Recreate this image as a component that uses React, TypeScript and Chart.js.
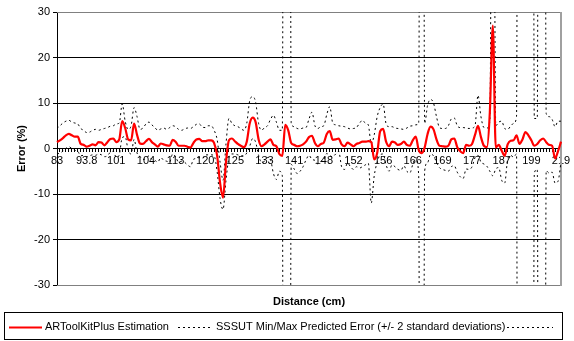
import React, { useEffect, useRef } from 'react';
import { Chart, registerables } from 'chart.js';

Chart.register(...registerables);

// ---- data ----
const tickLabels = ['83', '93.8', '101', '104', '113', '120', '125', '133', '141', '148', '152', '156', '166', '169', '177', '187', '199', '219'];
const labelStep = 10;
const pointCount = 171;

const estimation = [
  1.4, 1.8, 2.3, 2.9, 3.2, 2.9, 2.6, 2.6, 1.0, 0.8,
  0.4, 0.6, 0.9, 0.7, 1.4, 1.3, 0.7, 1.4, 2.1, 2.2,
  1.4, 2.0, 6.0, 4.5, 2.0, 1.8, 5.5, 3.0, 1.1, 1.0,
  1.6, 2.1, 1.4, 0.9, 0.4, 1.1, 0.9, 0.7, 0.6, 1.9,
  1.5, 0.6, 0.6, 0.6, 0.4, 0.2, 1.2, 2.0, 2.1, 1.6,
  1.6, 1.8, 1.8, 1.2, -1.5, -7.5, -10.8, -3.0, 1.8, 2.2,
  1.6, 1.0, 0.6, 0.3, 1.5, 5.5, 6.8, 5.8, 2.0, 0.5,
  0.9, 1.5, 2.0, 0.8, 0.5, -1.2, -1.6, 5.2, 4.0, 1.2,
  0.8, 0.5, 0.6, 0.9, 1.5, 2.5, 2.8, 1.2, 0.5, 1.0,
  1.3, 3.2, 3.8, 1.9, 2.0, 2.2, 0.9, 0.5, 1.3, 0.9,
  0.5, 1.0, 1.2, 1.5, 1.5, 1.6, 1.4, -2.4, -1.0, 3.8,
  4.3, 1.5, 0.5, 1.5, 1.3, 0.8, 1.0, 1.5, 0.8, 0.6,
  1.8, 2.6, -0.3, -1.0, 0.2, 3.2, 4.8, 4.2, 2.0, 0.6,
  0.5, 0.4, 0.6, 2.0, 2.2, 0.3, -0.6, -1.0, 0.8, 0.6,
  1.0, 3.0, 5.0, 2.5, 0.6, 0.3, 8.0, 27.0, 0.2, 0.8,
  -0.5, -1.6, 0.9, 1.7, 1.8, 2.9, 1.0, 2.0, 3.6, 2.9,
  1.8, 0.6, 1.0, 1.8, 2.2, 1.4, 0.8, 0.6, -2.2, -0.6,
  1.5,
];

const predictedMax = [
  4.4, 5.0, 5.6, 6.0, 6.2, 5.8, 5.6, 5.4, 4.4, 4.0,
  3.5, 3.6, 4.0, 4.2, 4.0, 4.2, 4.4, 4.6, 4.9, 5.0,
  5.4, 5.6, 9.8, 6.0, 4.2, 5.0, 9.0, 7.0, 4.2, 4.5,
  5.4, 5.8, 5.2, 4.6, 4.0, 4.3, 4.5, 4.2, 4.6, 5.0,
  4.8, 4.2, 4.0, 4.3, 4.5, 4.4, 4.8, 5.3, 5.4, 4.7,
  4.6, 5.0, 5.0, 4.0, 2.0, -3.0, -7.0, 1.0, 6.6, 5.5,
  5.0, 4.8, 4.4, 4.0, 5.5, 10.5, 11.4, 10.2, 5.5, 4.0,
  4.6, 5.0, 6.4, 7.3, 5.8, 4.0, 4.0, 400, 400, 5.5,
  4.8, 4.4, 4.3, 4.5, 4.6, 6.5, 8.0, 5.0, 4.4, 4.8,
  5.0, 7.5, 9.2, 5.6, 5.2, 5.0, 4.9, 4.8, 4.5, 4.3,
  4.4, 4.6, 5.5, 6.2, 5.6, 5.2, 1.0, 3.0, 7.0, 9.0,
  9.8, 5.4, 4.8, 4.8, 4.5, 4.4, 4.3, 4.2, 4.5, 4.9,
  5.0, 5.2, 5.5, 400, 5.5, 9.5, 10.8, 10.0, 7.0, 4.6,
  4.4, 4.4, 5.0, 6.5, 6.7, 5.0, 4.6, 4.6, 4.5, 4.4,
  4.5, 5.0, 11.7, 7.0, 4.6, 4.5, 6.0, 120, 5.0, 5.8,
  6.0, 4.4, 4.2, 4.9, 5.5, 7.0, 400, 400, 400, 400,
  400, 6.6, 6.6, 400, 400, 7.7, 7.0, 6.4, 4.8, 6.0,
  6.0,
];

const predictedMin = [
  -1.2, -1.0, -0.6, 0.0, 0.4, 0.0, -0.4, -0.6, -1.6, -1.5,
  -1.8, -1.6, -1.4, -1.5, -1.2, -1.4, -1.8, -1.6, -0.8, -0.6,
  -2.0, -1.4, 2.4, 2.6, -0.4, -1.2, 2.0, -1.0, -1.8, -2.4,
  -2.2, -1.6, -2.4, -2.6, -3.0, -2.0, -2.6, -2.8, -3.0, -1.2,
  -1.8, -3.0, -2.8, -3.0, -3.6, -4.0, -2.4, -2.2, -2.0, -2.2,
  -1.4, -1.4, -1.4, -1.6, -5.0, -11.0, -13.4, -7.0, -2.0, -1.2,
  -1.2, -1.4, -1.6, -1.6, -1.0, 0.5, 2.2, 1.4, -1.5, -3.0,
  -2.8, -2.0, -2.4, -5.5, -6.8, -5.0, -6.0, -400, -400, -3.5,
  -4.5, -5.5, -5.0, -4.0, -2.5, -1.5, -2.4, -2.6, -3.4, -2.8,
  -2.4, -1.1, -1.6, -1.8, -1.2, -0.6, -4.0, -4.6, -3.2, -4.0,
  -4.6, -4.0, -4.3, -4.0, -3.6, -3.2, -12.0, -6.0, -3.0, -1.4,
  -1.2, -3.6, -5.0, -3.6, -4.0, -4.6, -4.8, -3.8, -5.0, -5.4,
  -3.5, -2.0, -6.0, -400, -5.0, -3.1, -1.2, -1.6, -3.0, -4.2,
  -4.6, -4.8, -5.0, -4.0, -3.8, -5.2, -6.2, -6.6, -4.5, -4.6,
  -4.0, -2.0, -1.5, -3.0, -3.4, -3.9, -5.0, -6.0, -4.5, -4.2,
  -7.0, -7.6, -2.4, -1.5, -1.9, -1.2, -400, -400, -400, -400,
  -400, -5.4, -4.6, -400, -400, -4.9, -5.4, -5.2, -7.6, -7.2,
  -3.0,
];

const seriesNames = ['ARToolKitPlus Estimation', 'SSSUT Min/Max Predicted Error (+/- 2 standard deviations)', ''];
const xTitle = 'Distance (cm)';
const yTitle = 'Error (%)';
const yMin = -30;
const yMax = 30;
const yStep = 10;

const FONT = '"Liberation Sans", Arial, sans-serif';

const categories = Array.from({ length: pointCount }, (_, i) =>
  i % labelStep === 0 ? tickLabels[i / labelStep] : ''
);

const decorPlugin = {
  id: 'decor',
  beforeDatasetsDraw(chart: any) {
    const { ctx, chartArea: a } = chart;
    ctx.save();
    ctx.strokeStyle = '#808080';
    ctx.lineWidth = 1;
    ctx.beginPath();
    ctx.moveTo(a.left, Math.round(a.top) + 0.5);
    ctx.lineTo(a.right, Math.round(a.top) + 0.5);
    ctx.moveTo(a.left, Math.round(a.bottom) + 0.5);
    ctx.lineTo(a.right, Math.round(a.bottom) + 0.5);
    ctx.stroke();
    ctx.strokeStyle = '#a0a0a0';
    ctx.lineWidth = 2;
    ctx.beginPath();
    ctx.moveTo(a.right, a.top);
    ctx.lineTo(a.right, a.bottom + 1);
    ctx.stroke();
    ctx.restore();
  },
  afterDraw(chart: any) {
    const { ctx, chartArea: a } = chart;
    ctx.save();
    ctx.fillStyle = '#000';
    // axis titles
    ctx.font = 'bold 11px ' + FONT;
    ctx.textAlign = 'center';
    ctx.textBaseline = 'middle';
    ctx.fillText(xTitle, (a.left + a.right) / 2, 302);
    ctx.save();
    ctx.translate(22, (a.top + a.bottom) / 2);
    ctx.rotate(-Math.PI / 2);
    ctx.fillText(yTitle, 0, 0);
    ctx.restore();

    // legend
    const boxTop = 312.5, boxBottom = 339.5;
    ctx.strokeStyle = '#000';
    ctx.lineWidth = 1;
    ctx.strokeRect(4.5, boxTop, 558, boxBottom - boxTop);
    const cy = 327;
    const markers = [[9, 42], [178, 213], [507, 553]];
    ctx.font = '11px ' + FONT;
    ctx.textAlign = 'left';
    chart.data.datasets.forEach((ds: any, i: number) => {
      const [m0, m1] = markers[i];
      ctx.save();
      ctx.strokeStyle = ds.borderColor;
      ctx.lineWidth = ds.borderWidth;
      ctx.setLineDash(ds.borderDash || []);
      ctx.beginPath();
      ctx.moveTo(m0, cy + 0.5);
      ctx.lineTo(m1, cy + 0.5);
      ctx.stroke();
      ctx.restore();
      if (ds.label) ctx.fillText(ds.label, m1 + 3, cy);
    });
    ctx.restore();
  },
};

export default function App() {
  const ref = useRef<HTMLCanvasElement>(null);
  useEffect(() => {
    const dotted = (label: string, data: number[]) => ({
      label,
      data,
      borderColor: '#000',
      borderWidth: 1,
      borderDash: [2, 3],
      pointRadius: 0,
      fill: false,
      cubicInterpolationMode: 'monotone' as const,
    });
    const chart = new Chart(ref.current!, {
      type: 'line',
      data: {
        labels: categories,
        datasets: [
          {
            label: seriesNames[0],
            data: estimation,
            borderColor: '#ff0000',
            borderWidth: 2.2,
            pointRadius: 0,
            fill: false,
            cubicInterpolationMode: 'monotone',
            borderJoinStyle: 'round',
          } as any,
          dotted(seriesNames[1], predictedMax),
          dotted(seriesNames[2], predictedMin),
        ],
      },
      options: {
        animation: false,
        responsive: false,
        devicePixelRatio: 1,
        layout: { padding: { left: 0, top: 12, right: 13, bottom: 56 } },
        plugins: { legend: { display: false }, tooltip: { enabled: false } },
        events: [],
        scales: {
          x: {
            type: 'category',
            position: { y: 0 } as any,
            offset: false,
            grid: { drawOnChartArea: false, drawTicks: true, tickLength: 3, tickColor: '#000' },
            border: { display: true, color: '#000', width: 1 },
            ticks: {
              autoSkip: false,
              maxRotation: 0,
              minRotation: 0,
              padding: 3,
              color: '#000',
              font: { family: FONT, size: 11 },
            },
            afterFit: (s: any) => {
              s.paddingLeft = 0;
              s.paddingRight = 0;
            },
          },
          y: {
            min: yMin,
            max: yMax,
            ticks: { stepSize: yStep, padding: 3, color: '#000', font: { family: FONT, size: 11 } },
            grid: {
              color: (c: any) => (c.tick && Math.abs(c.tick.value) === yMax ? '#808080' : '#000'),
              lineWidth: 1,
              tickLength: 4,
              tickColor: '#000',
            },
            border: { display: true, color: '#000', width: 1 },
            afterFit: (s: any) => {
              s.width = 57;
              s.paddingTop = 0;
              s.paddingBottom = 0;
            },
          },
        },
      },
      plugins: [decorPlugin],
    } as any);
    return () => chart.destroy();
  }, []);
  return (
    <div style={{ position: 'absolute', left: 0, top: 0, width: 574, height: 341, background: '#fff' }}>
      <canvas ref={ref} width={574} height={341} style={{ display: 'block', width: 574, height: 341 }} />
    </div>
  );
}
